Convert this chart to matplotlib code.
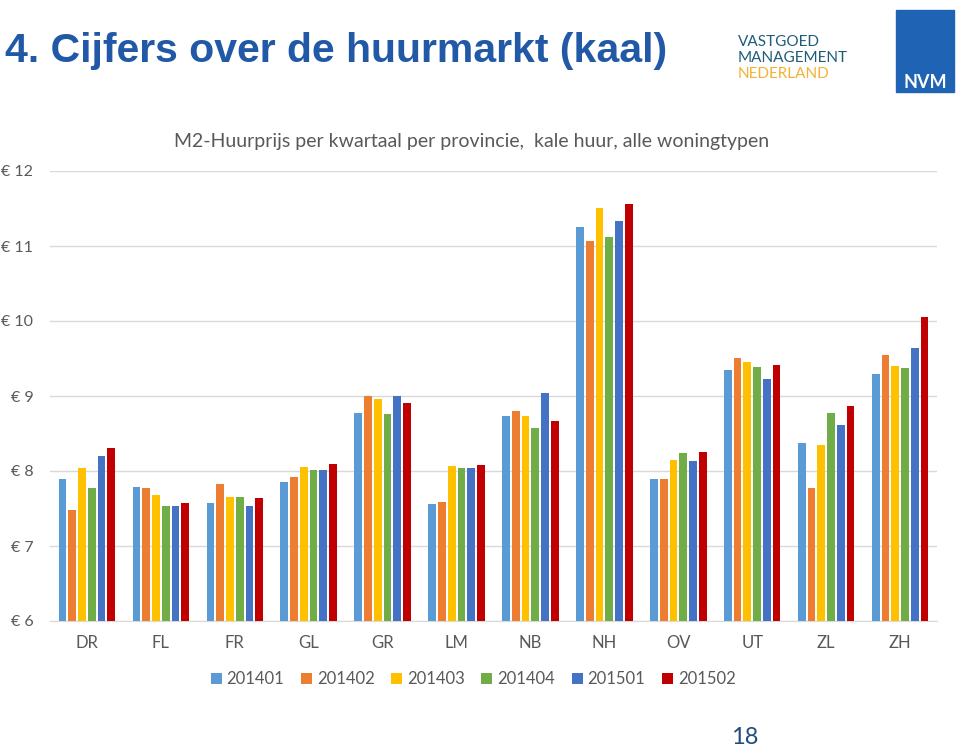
import numpy as np
import matplotlib
matplotlib.use("Agg")
import matplotlib.pyplot as plt
from matplotlib.patches import Rectangle

provinces = ["DR", "FL", "FR", "GL", "GR", "LM", "NB", "NH", "OV", "UT", "ZL", "ZH"]
quarters = ["201401", "201402", "201403", "201404", "201501", "201502"]
colors = ["#5B9BD5", "#ED7D31", "#FFC000", "#70AD47", "#4472C4", "#C00000"]

# m2 price per quarter, one list per quarter (order = provinces)
q201401 = [7.89, 7.79, 7.58, 7.86, 8.77, 7.56, 8.73, 11.25, 7.89, 9.35, 8.37, 9.29]
q201402 = [7.48, 7.78, 7.83, 7.92, 9.00, 7.59, 8.80, 11.06, 7.89, 9.51, 7.78, 9.55]
q201403 = [8.04, 7.68, 7.65, 8.05, 8.96, 8.07, 8.73, 11.51, 8.15, 9.45, 8.35, 9.40]
q201404 = [7.78, 7.53, 7.65, 8.02, 8.76, 8.04, 8.58, 11.12, 8.24, 9.38, 8.78, 9.37]
q201501 = [8.20, 7.53, 7.53, 8.02, 9.00, 8.04, 9.04, 11.33, 8.13, 9.22, 8.61, 9.64]
q201502 = [8.31, 7.58, 7.64, 8.09, 8.91, 8.08, 8.67, 11.56, 8.26, 9.42, 8.87, 10.05]
series = [q201401, q201402, q201403, q201404, q201501, q201502]

yticks = [6, 7, 8, 9, 10, 11, 12]

plt.rcParams["font.family"] = ["Lato", "DejaVu Sans"]
grey = "#595959"

fig = plt.figure(figsize=(9.59, 7.49), dpi=100)
ax = fig.add_axes([50 / 959, 128 / 749, 887 / 959, 450 / 749])

x = np.arange(len(provinces))
slot = 0.132
for i, (vals, c) in enumerate(zip(series, colors)):
    off = (i - 2.5) * slot
    ax.bar(x + off, np.array(vals) - 6, bottom=6, width=0.105, color=c,
           label=quarters[i], zorder=3)

ax.set_xlim(-0.5, len(provinces) - 0.5)
ax.set_ylim(6, 12)
ax.set_yticks(yticks)
ax.set_yticklabels([f"€ {v}" for v in yticks], color=grey, fontsize=11.5)
ax.set_xticks(x)
ax.set_xticklabels(provinces, color=grey, fontsize=12)
ax.tick_params(axis="x", length=0, pad=10)
ax.tick_params(axis="y", length=0, pad=12)
ax.grid(axis="y", color="#D9D9D9", lw=1, zorder=0)
for s in ["top", "right", "left"]:
    ax.spines[s].set_visible(False)
ax.spines["bottom"].set_color("#D9D9D9")

ax.set_title("M2-Huurprijs per kwartaal per provincie,  kale huur, alle woningtypen",
             color=grey, fontsize=14, pad=17, x=0.475)

ax.legend(loc="upper center", bbox_to_anchor=(0.477, -0.078), ncol=6, frameon=False,
          fontsize=12, handlelength=0.65, handleheight=0.65, handletextpad=0.3,
          columnspacing=1.0, labelcolor=grey)

# slide header
fig.text(5 / 959, 1 - 51 / 749, "4. Cijfers over de huurmarkt (kaal)",
         color="#2159A6", fontsize=29.5, fontweight="bold", va="center",
         family=["Liberation Sans Narrow", "Liberation Sans"])

# logos, approximated with text
fig.text(738 / 959, 1 - 42 / 749, "VASTGOED", color="#1F5C7A", fontsize=11, va="center")
fig.text(738 / 959, 1 - 58 / 749, "MANAGEMENT", color="#1F5C7A", fontsize=11, va="center")
fig.text(738 / 959, 1 - 74 / 749, "NEDERLAND", color="#F2B233", fontsize=11, va="center")
fig.patches.append(Rectangle((896 / 959, 1 - 92 / 749), 58 / 959, 82 / 749,
                             transform=fig.transFigure, color="#1F63B4"))
fig.text(925 / 959, 1 - 82 / 749, "NVM", color="white", fontsize=13, fontweight="bold",
         ha="center", va="center")

fig.text(745 / 959, 1 - 738 / 749, "18", color="#1F4E79", fontsize=17,
         ha="center", va="center")

fig.savefig("out.png", dpi=100)
